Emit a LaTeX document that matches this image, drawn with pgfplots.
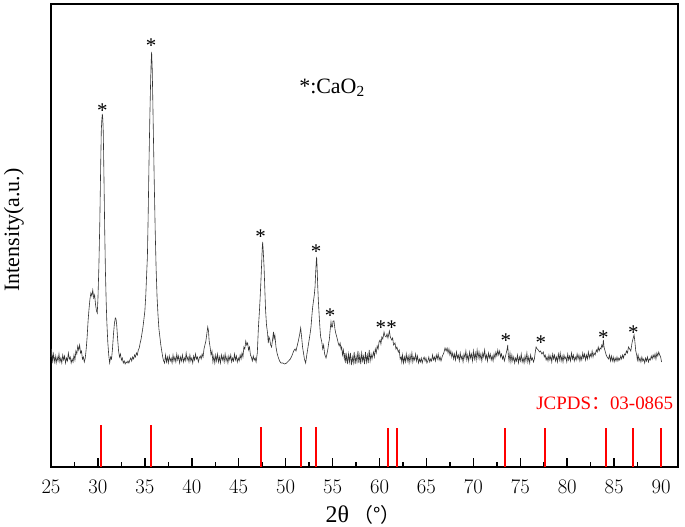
\documentclass[border=0pt]{standalone}
\usepackage{pgfplots}
\pgfplotsset{compat=1.18}
\usepackage{fontspec}
\setmainfont{Liberation Serif}
\newfontfamily\cjk{Noto Sans CJK SC}
\usetikzlibrary{plotmarks}
\begin{document}
\begin{tikzpicture}
\path[use as bounding box] (-51bp,-60bp) rectangle (634bp,467bp);
\begin{axis}[
  at={(0,0)}, anchor=south west,
  scale only axis, width=627bp, height=463bp,
  xmin=25, xmax=91.8, ymin=0, ymax=463,
  axis line style={line width=1.5bp, black},
  xtick={25,30,...,90},
  minor xtick={27.5,32.5,...,87.5},
  ytick=\empty,
  xtick pos=lower,
  tick align=inside,
  major tick length=9bp, minor tick length=5bp,
  every tick/.style={black, line width=1.5bp},
  xticklabel style={font=\fontsize{19.5}{19.5}\selectfont, anchor=center, yshift=-20bp},
  xlabel={2θ\,{\cjk\fontsize{20}{20}\selectfont （°）}},
  xlabel style={font=\fontsize{24}{24}\selectfont, at={(axis description cs:0.4976,-0.1037)}, anchor=center},
  ylabel={Intensity(a.u.)},
  ylabel style={font=\fontsize{22}{22}\selectfont, at={(axis description cs:-0.059,0.512)}, anchor=center},
  clip=false,
]
\addplot[black!80, line width=0.6bp, mark=none] table {
25.00 110
25.05 118
25.15 106
25.25 113
25.35 105
25.45 111
25.55 104
25.65 110
25.75 106
25.85 113
25.95 105
26.05 109
26.15 104
26.25 112
26.35 107
26.45 111
26.55 104
26.65 109
26.75 106
26.85 114
26.95 108
27.05 110
27.15 104
27.25 108
27.35 105
27.45 112
27.55 107
27.65 116
27.75 113
27.85 121
27.95 117
28.05 122
28.15 114
28.25 116
28.35 108
28.45 110
28.55 105
28.65 109
28.75 118
28.85 130
28.95 146
29.05 158
29.15 168
29.25 174
29.35 171
29.45 177
29.55 169
29.65 172
29.75 162
29.85 156
29.93 154
30.00 168
30.10 200
30.20 245
30.30 305
30.36 337
30.42 348
30.47 353
30.52 348
30.57 335
30.65 285
30.72 238
30.80 195
30.88 165
30.95 145
31.05 125
31.15 112
31.25 104
31.35 110
31.45 108
31.55 118
31.65 132
31.75 143
31.85 149
31.93 148
32.00 142
32.10 128
32.20 116
32.30 110
32.40 113
32.50 107
32.60 109
32.70 104
32.80 106
32.90 103
33.00 105
33.10 104
33.20 106
33.30 104
33.40 107
33.50 109
33.60 106
33.70 110
33.80 108
33.90 112
34.00 110
34.10 114
34.20 112
34.30 117
34.40 119
34.50 124
34.60 128
34.70 134
34.80 140
34.90 148
35.00 156
35.10 172
35.20 195
35.27 210
35.35 250
35.44 304
35.53 350
35.62 388
35.67 405
35.72 415
35.78 400
35.84 370
35.90 337
36.00 285
36.10 237
36.20 198
36.30 170
36.40 152
36.50 138
36.60 130
36.70 122
36.80 116
36.90 110
37.00 106
37.10 104
37.20 112
37.30 105
37.40 110
37.50 104
37.60 111
37.70 106
37.80 109
37.90 104
38.00 112
38.10 106
38.20 110
38.30 105
38.40 113
38.50 107
38.60 111
38.70 104
38.80 110
38.90 106
39.00 112
39.10 105
39.20 109
39.30 106
39.40 114
39.50 107
39.60 110
39.70 105
39.80 112
39.90 106
40.00 109
40.10 104
40.20 111
40.30 107
40.40 113
40.50 108
40.60 110
40.70 105
40.80 109
40.90 111
41.00 108
41.10 113
41.20 110
41.30 118
41.40 122
41.50 126
41.60 133
41.70 140
41.78 136
41.85 126
41.95 120
42.05 112
42.15 116
42.25 105
42.35 111
42.45 104
42.55 112
42.65 106
42.75 113
42.85 105
42.95 110
43.05 104
43.15 112
43.25 107
43.35 111
43.45 105
43.55 113
43.65 106
43.75 110
43.85 104
43.95 111
44.05 107
44.15 112
44.25 105
44.35 109
44.45 106
44.55 113
44.65 107
44.75 111
44.85 105
44.95 109
45.05 106
45.15 112
45.25 108
45.35 114
45.45 110
45.55 120
45.65 118
45.75 126
45.85 122
45.95 124
46.05 117
46.15 120
46.25 112
46.35 110
46.45 106
46.55 111
46.65 107
46.75 109
46.85 105
46.98 114
47.10 140
47.20 155
47.27 167
47.36 185
47.45 205
47.50 218
47.55 225
47.60 218
47.70 200
47.78 178
47.86 157
47.96 142
48.07 134
48.15 124
48.22 130
48.30 128
48.40 122
48.50 120
48.60 127
48.70 135
48.76 128
48.85 132
48.97 120
49.08 114
49.20 110
49.35 106
49.50 104
49.70 104
49.90 103
50.10 104
50.30 106
50.50 108
50.70 112
50.85 116
51.00 118
51.10 116
51.20 120
51.35 126
51.50 133
51.60 139
51.70 130
51.80 120
51.90 114
52.00 108
52.13 104
52.25 112
52.35 118
52.50 127
52.60 133
52.70 140
52.80 152
52.88 160
52.95 165
53.05 172
53.13 180
53.20 195
53.26 205
53.30 210
53.35 200
53.42 180
53.48 167
53.58 150
53.66 138
53.73 130
53.85 125
53.95 118
54.05 122
54.15 113
54.30 109
54.40 113
54.50 118
54.60 125
54.65 127
54.73 136
54.83 145
54.90 140
54.98 140
55.05 146
55.15 146
55.25 138
55.33 134
55.45 130
55.55 126
55.60 124
55.70 121
55.80 124
55.90 118
55.97 120
56.05 112
56.15 117
56.25 108
56.33 114
56.40 104
56.50 112
56.60 103
56.70 113
56.80 105
56.90 114
57.00 102
57.10 110
57.20 104
57.30 115
57.40 103
57.50 111
57.60 105
57.70 116
57.80 104
57.90 112
58.00 103
58.10 114
58.20 106
58.30 111
58.40 103
58.50 115
58.60 105
58.70 112
58.80 104
58.90 117
59.00 106
59.10 113
59.20 108
59.35 115
59.45 110
59.55 118
59.65 114
59.75 121
59.85 118
59.95 125
60.06 127
60.15 123
60.25 130
60.35 128
60.48 135
60.58 131
60.70 130
60.80 133
60.90 129
61.05 136
61.15 130
61.30 127
61.40 129
61.50 122
61.65 124
61.75 118
61.85 120
62.00 115
62.10 117
62.20 108
62.30 110
62.37 105
62.45 112
62.55 104
62.65 110
62.75 105
62.85 113
62.95 106
63.05 111
63.15 104
63.25 112
63.35 106
63.45 114
63.55 105
63.65 110
63.75 107
63.85 113
63.95 106
64.05 111
64.15 104
64.25 108
64.35 105
64.45 109
64.55 104
64.65 108
64.75 110
64.85 106
64.95 109
65.05 104
65.15 106
65.25 110
65.35 105
65.45 108
65.55 106
65.65 112
65.75 107
65.85 110
65.95 106
66.05 112
66.15 108
66.25 113
66.35 107
66.45 110
66.55 106
66.70 111
66.85 114
66.98 119
67.10 116
67.20 119
67.30 114
67.40 118
67.50 112
67.60 116
67.70 110
67.80 114
67.90 108
68.00 113
68.10 107
68.20 115
68.30 109
68.40 112
68.50 106
68.60 114
68.70 108
68.80 111
68.90 105
69.00 113
69.10 109
69.20 116
69.30 107
69.40 112
69.50 106
69.60 115
69.70 109
69.80 113
69.90 106
70.00 116
70.10 108
70.20 114
70.30 107
70.40 117
70.50 109
70.60 115
70.70 108
70.80 113
70.90 106
71.00 114
71.10 110
71.20 117
71.30 108
71.40 112
71.50 106
71.60 114
71.70 109
71.80 113
71.90 107
72.00 111
72.10 106
72.20 113
72.30 109
72.40 115
72.50 111
72.60 117
72.70 112
72.80 116
72.90 110
73.00 113
73.10 108
73.20 111
73.30 106
73.40 110
73.50 114
73.60 118
73.66 122
73.72 112
73.80 106
73.90 114
74.00 105
74.10 112
74.20 106
74.30 110
74.40 104
74.50 109
74.60 106
74.70 112
74.80 104
74.90 110
75.00 106
75.10 113
75.20 105
75.30 109
75.40 104
75.50 111
75.60 106
75.70 114
75.80 105
75.90 110
76.00 104
76.10 112
76.20 107
76.30 109
76.40 105
76.50 108
76.58 114
76.68 120
76.80 118
76.92 117
77.05 115
77.15 116
77.30 113
77.45 115
77.55 110
77.65 112
77.75 107
77.85 110
77.95 106
78.05 112
78.15 107
78.25 111
78.35 105
78.45 113
78.55 108
78.65 112
78.75 106
78.85 110
78.95 105
79.05 113
79.15 107
79.25 114
79.35 106
79.45 111
79.55 105
79.65 112
79.75 108
79.85 110
79.95 105
80.05 113
80.15 107
80.25 111
80.35 106
80.45 114
80.55 108
80.65 112
80.75 106
80.85 110
80.95 107
81.05 113
81.15 108
81.25 112
81.35 106
81.45 111
81.55 107
81.65 114
81.75 109
81.85 113
81.95 107
82.05 112
82.15 108
82.25 115
82.35 109
82.45 113
82.55 110
82.65 116
82.75 110
82.85 114
82.97 112
83.10 117
83.20 115
83.30 120
83.40 116
83.50 119
83.60 118
83.68 122
83.78 120
83.85 127
83.92 120
84.03 116
84.15 112
84.25 110
84.40 108
84.50 112
84.60 106
84.70 111
84.80 106
84.90 110
85.00 105
85.10 109
85.20 106
85.30 110
85.40 106
85.50 109
85.60 107
85.70 111
85.80 108
85.90 112
85.99 109
86.10 113
86.20 112
86.30 116
86.42 114
86.52 120
86.65 118
86.77 116
86.90 124
87.00 128
87.12 132
87.20 126
87.30 116
87.40 112
87.47 107
87.55 112
87.65 106
87.75 109
87.85 105
87.95 110
88.05 106
88.15 108
88.25 104
88.35 109
88.45 106
88.55 110
88.65 105
88.75 108
88.85 107
88.95 111
89.05 108
89.15 112
89.25 109
89.35 113
89.45 108
89.55 114
89.65 111
89.75 115
89.85 112
89.95 110
90.05 105
};
\addplot[ycomb, red, line width=2bp, mark=none] coordinates {
(30.36,42) (35.66,42) (47.38,40) (51.64,40) (53.24,40) (60.94,39) (61.90,39)
(73.37,39) (77.60,39) (84.14,39) (86.98,39) (90.00,39)
};
\addplot[only marks, mark=text, text mark={*}, text mark as node=true,
  text mark style={font=\fontsize{21}{21}\selectfont, anchor=base, inner sep=0pt, black}]
  coordinates {
(30.47,349) (35.66,414) (47.34,223) (53.24,208) (54.73,144) (60.13,132) (61.30,132)
(73.45,119) (77.20,117) (83.85,122) (87.05,127)
};
\node[font=\fontsize{22}{22}\selectfont, anchor=center] at (axis cs:54.94,379) {*:CaO\textsubscript{2}};
\node[font=\fontsize{19}{19}\selectfont, text=red, anchor=east, inner sep=0pt] at (axis cs:91.3,64) {JCPDS{\cjk ：}03-0865};
\end{axis}
\end{tikzpicture}
\end{document}
